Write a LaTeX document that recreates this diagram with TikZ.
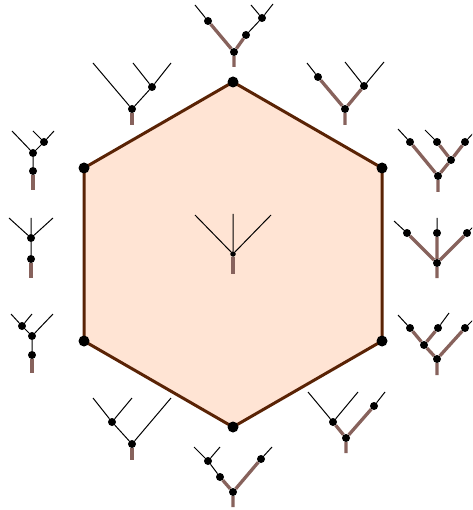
\documentclass[tikz,border=0pt]{standalone}
\definecolor{paintc}{RGB}{135,98,92}
\definecolor{hexline}{RGB}{90,35,5}
\definecolor{hexfill}{RGB}{255,228,212}
\begin{document}
\begin{tikzpicture}[x=1pt,y=-1pt,
  hexdot/.style={circle,fill=black,inner sep=0pt,minimum size=11pt},
  tdot/.style={circle,fill=black,inner sep=0pt,minimum size=8pt},
  cdot/.style={circle,fill=black,inner sep=0pt,minimum size=5.5pt},
  paint/.style={draw=paintc,line width=3.3pt},
  leafline/.style={draw=black,line width=1pt},
  hexedge/.style={draw=hexline,line width=3pt,fill=hexfill,line join=miter}]
\useasboundingbox (0,0) rectangle (472,510);
\clip (0,0) rectangle (472,510);
% hexagon
\coordinate (h1) at (233,82);
\coordinate (h2) at (382,168);
\coordinate (h3) at (382,341);
\coordinate (h4) at (233,427);
\coordinate (h5) at (84,341);
\coordinate (h6) at (84,168);
\path[hexedge] (h1) -- (h2) -- (h3) -- (h4) -- (h5) -- (h6) -- cycle;
\foreach \i in {1,...,6} \node[hexdot] (H\i) at (h\i) {};
% centre tree
\node[cdot] (c0) at (233,254) {};
\coordinate (c0s) at (233,274);
\coordinate (c0a) at (195,215);
\coordinate (c0b) at (233,214);
\coordinate (c0c) at (271,215);
\draw[paint] (c0) -- (c0s);
\draw[leafline] (c0) -- (c0a) (c0) -- (c0b) (c0) -- (c0c);
% T1 top
\node[tdot] (r1) at (234,52) {};
\node[tdot] (a1) at (208,21) {};
\node[tdot] (b1) at (246,35) {};
\node[tdot] (v1) at (262,18) {};
\coordinate (s1) at (234,67);
\coordinate (la1) at (195,5);
\coordinate (lb1) at (251,5);
\coordinate (lc1) at (273,4);
\draw[paint] (r1) -- (s1) (r1) -- (a1) (r1) -- (b1);
\draw[leafline] (a1) -- (la1) (b1) -- (v1) (v1) -- (lb1) (v1) -- (lc1);
% T2
\node[tdot] (r2) at (132,109) {};
\node[tdot] (v2) at (152,87) {};
\coordinate (s2) at (132,125);
\coordinate (la2) at (93,63);
\coordinate (lb2) at (133,63);
\coordinate (lc2) at (171,63);
\draw[paint] (r2) -- (s2);
\draw[leafline] (r2) -- (la2) (r2) -- (v2) (v2) -- (lb2) (v2) -- (lc2);
% T3
\node[tdot] (r3) at (345,109) {};
\node[tdot] (a3) at (318,77) {};
\node[tdot] (v3) at (364,86) {};
\coordinate (s3) at (345,125);
\coordinate (la3) at (307,63);
\coordinate (lb3) at (345,62);
\coordinate (lc3) at (384,62);
\draw[paint] (r3) -- (s3) (r3) -- (a3) (r3) -- (v3);
\draw[leafline] (a3) -- (la3) (v3) -- (lb3) (v3) -- (lc3);
% T4
\node[tdot] (p4) at (33,171) {};
\node[tdot] (r4) at (33,153) {};
\node[tdot] (v4) at (44,142) {};
\coordinate (s4) at (33,190);
\coordinate (la4) at (12,131);
\coordinate (lb4) at (33,131);
\coordinate (lc4) at (54,131);
\draw[paint] (p4) -- (s4);
\draw[leafline] (p4) -- (r4) (r4) -- (la4) (r4) -- (v4) (v4) -- (lb4) (v4) -- (lc4);
% T5
\node[tdot] (r5) at (438,176) {};
\node[tdot] (a5) at (410,142) {};
\node[tdot] (v5) at (451,160) {};
\node[tdot] (b5) at (437,142) {};
\node[tdot] (c5) at (465,142) {};
\coordinate (s5) at (438,192);
\coordinate (la5) at (398,129);
\coordinate (lb5) at (425,130);
\coordinate (lc5) at (478,128);
\draw[paint] (r5) -- (s5) (r5) -- (a5) (r5) -- (v5) (v5) -- (b5) (v5) -- (c5);
\draw[leafline] (a5) -- (la5) (b5) -- (lb5) (c5) -- (lc5);
% T6
\node[tdot] (p6) at (31,259) {};
\node[tdot] (r6) at (31,238) {};
\coordinate (s6) at (31,278);
\coordinate (la6) at (9,218);
\coordinate (lb6) at (31,218);
\coordinate (lc6) at (53,218);
\draw[paint] (p6) -- (s6);
\draw[leafline] (p6) -- (r6) (r6) -- (la6) (r6) -- (lb6) (r6) -- (lc6);
% T7
\node[tdot] (r7) at (437,263) {};
\node[tdot] (a7) at (407,233) {};
\node[tdot] (b7) at (437,233) {};
\node[tdot] (c7) at (467,233) {};
\coordinate (s7) at (437,278);
\coordinate (la7) at (394,221);
\coordinate (lb7) at (437,218);
\coordinate (lc7) at (480,220);
\draw[paint] (r7) -- (s7) (r7) -- (a7) (r7) -- (b7) (r7) -- (c7);
\draw[leafline] (a7) -- (la7) (b7) -- (lb7) (c7) -- (lc7);
% T8
\node[tdot] (p8) at (32,355) {};
\node[tdot] (r8) at (32,336) {};
\node[tdot] (v8) at (22,326) {};
\coordinate (s8) at (32,373);
\coordinate (la8) at (11,314);
\coordinate (lb8) at (32,314);
\coordinate (lc8) at (53,314);
\draw[paint] (p8) -- (s8);
\draw[leafline] (p8) -- (r8) (r8) -- (v8) (v8) -- (la8) (v8) -- (lb8) (r8) -- (lc8);
% T9
\node[tdot] (r9) at (437,359) {};
\node[tdot] (v9) at (424,345) {};
\node[tdot] (a9) at (410,328) {};
\node[tdot] (b9) at (438,328) {};
\node[tdot] (c9) at (465,328) {};
\coordinate (s9) at (437,375);
\coordinate (la9) at (398,315);
\coordinate (lb9) at (449,313);
\coordinate (lc9) at (478,315);
\draw[paint] (r9) -- (s9) (r9) -- (v9) (v9) -- (a9) (v9) -- (b9) (r9) -- (c9);
\draw[leafline] (a9) -- (la9) (b9) -- (lb9) (c9) -- (lc9);
% T10
\node[tdot] (r10) at (132,444) {};
\node[tdot] (v10) at (112,422) {};
\coordinate (s10) at (132,460);
\coordinate (la10) at (93,398);
\coordinate (lb10) at (132,398);
\coordinate (lc10) at (171,398);
\draw[paint] (r10) -- (s10);
\draw[leafline] (r10) -- (v10) (v10) -- (la10) (v10) -- (lb10) (r10) -- (lc10);
% T11
\node[tdot] (r11) at (346,438) {};
\node[tdot] (v11) at (333,422) {};
\node[tdot] (a11) at (374,406) {};
\coordinate (s11) at (346,453);
\coordinate (la11) at (308,392);
\coordinate (lb11) at (358,392);
\coordinate (lc11) at (385,392);
\draw[paint] (r11) -- (s11) (r11) -- (v11) (r11) -- (a11);
\draw[leafline] (v11) -- (la11) (v11) -- (lb11) (a11) -- (lc11);
% T12
\node[tdot] (r12) at (233,492) {};
\node[tdot] (p12) at (220,477) {};
\node[tdot] (v12) at (208,461) {};
\node[tdot] (a12) at (261,459) {};
\coordinate (s12) at (233,507);
\coordinate (la12) at (194,447);
\coordinate (lb12) at (220,447);
\coordinate (lc12) at (272,447);
\draw[paint] (r12) -- (s12) (r12) -- (p12) (r12) -- (a12);
\draw[leafline] (p12) -- (v12) (v12) -- (la12) (v12) -- (lb12) (a12) -- (lc12);
\end{tikzpicture}
\end{document}
